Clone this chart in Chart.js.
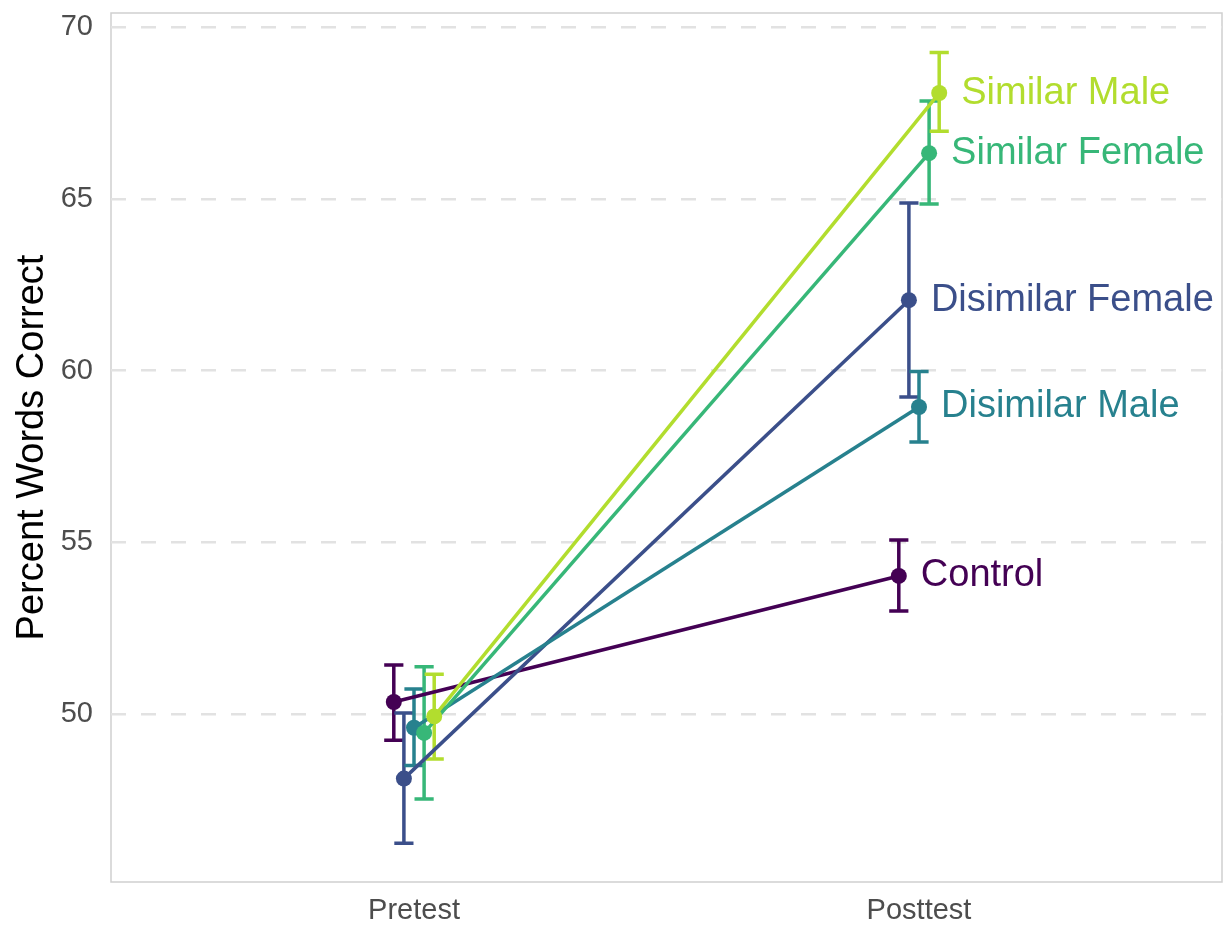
<!DOCTYPE html>
<html>
<head>
<meta charset="utf-8">
<title>Percent Words Correct</title>
<script src="https://cdn.jsdelivr.net/npm/chart.js@4.4.1/dist/chart.umd.min.js"></script>
<style>
  html, body { margin: 0; padding: 0; background: #fff; overflow: hidden; }
  canvas { display: block; }
</style>
</head>
<body>
<canvas id="wordsChart" width="1225" height="927"></canvas>
<script>
// groups and test times
const groups = ['Control', 'Disimilar Female', 'Disimilar Male', 'Similar Female', 'Similar Male'];
const times = ['Pretest', 'Posttest'];
const groupColors = ['#440154', '#3b4f8a', '#27818e', '#37b778', '#b2dd2e'];

// means and error bar ends
const pretestMean = [50.35, 48.12, 49.60, 49.45, 49.93];
const pretestLow = [49.24, 46.24, 48.50, 47.53, 48.69];
const pretestHigh = [51.43, 50.03, 50.73, 51.38, 51.16];
const posttestMean = [54.02, 62.05, 58.94, 66.33, 68.08];
const posttestLow = [53.00, 59.23, 57.92, 64.85, 66.97];
const posttestHigh = [55.07, 64.88, 59.97, 67.85, 69.26];

const yTicks = [50, 55, 60, 65, 70];
const dodge = [-0.04, -0.02, 0, 0.02, 0.04];

const fontFamily = '"Liberation Sans", Arial, Helvetica, sans-serif';

const datasets = groups.map(function(name, i) {
    return {
        label: name,
        data: [
            { x: 1 + dodge[i], y: pretestMean[i] },
            { x: 2 + dodge[i], y: posttestMean[i] }
        ],
        showLine: true,
        borderColor: groupColors[i],
        backgroundColor: groupColors[i],
        borderWidth: 3.5,
        pointRadius: 8,
        pointBorderWidth: 0,
        pointHoverRadius: 8,
        order: groups.length - 1 - i
    };
});

// panel border
const panelBorder = {
    id: 'panelBorder',
    beforeDraw(chart) {
        const a = chart.chartArea;
        const ctx = chart.ctx;
        ctx.save();
        ctx.strokeStyle = '#cfcfcf';
        ctx.lineWidth = 1.5;
        ctx.strokeRect(a.left, a.top, a.right - a.left, a.bottom - a.top);
        ctx.restore();
    }
};

// error bars under the lines
const errorBars = {
    id: 'errorBars',
    beforeDatasetsDraw(chart) {
        const xs = chart.scales.x;
        const ys = chart.scales.y;
        const ctx = chart.ctx;
        ctx.save();
        ctx.lineWidth = 3.5;
        groups.forEach(function(name, i) {
            const bars = [
                [1 + dodge[i], pretestLow[i], pretestHigh[i]],
                [2 + dodge[i], posttestLow[i], posttestHigh[i]]
            ];
            ctx.strokeStyle = groupColors[i];
            bars.forEach(function(b) {
                const x = xs.getPixelForValue(b[0]);
                const xl = xs.getPixelForValue(b[0] - 0.019);
                const xr = xs.getPixelForValue(b[0] + 0.019);
                const yl = ys.getPixelForValue(b[1]);
                const yh = ys.getPixelForValue(b[2]);
                ctx.beginPath();
                ctx.moveTo(x, yl); ctx.lineTo(x, yh);
                ctx.moveTo(xl, yl); ctx.lineTo(xr, yl);
                ctx.moveTo(xl, yh); ctx.lineTo(xr, yh);
                ctx.stroke();
            });
        });
        ctx.restore();
    }
};

// group names next to the posttest points
const endLabels = {
    id: 'endLabels',
    afterDatasetsDraw(chart) {
        const xs = chart.scales.x;
        const ys = chart.scales.y;
        const ctx = chart.ctx;
        ctx.save();
        ctx.font = '38px ' + fontFamily;
        ctx.textAlign = 'left';
        ctx.textBaseline = 'middle';
        groups.forEach(function(name, i) {
            ctx.fillStyle = groupColors[i];
            ctx.fillText(name, xs.getPixelForValue(2 + dodge[i]) + 22, ys.getPixelForValue(posttestMean[i]));
        });
        ctx.restore();
    }
};

const ctx = document.getElementById('wordsChart').getContext('2d');
const wordsChart = new Chart(ctx, {
    type: 'scatter',
    data: { datasets: datasets },
    plugins: [panelBorder, errorBars, endLabels],
    options: {
        responsive: false,
        animation: false,
        devicePixelRatio: 1,
        layout: {
            autoPadding: false,
            padding: { top: 13, right: 3, left: 0, bottom: 0 }
        },
        plugins: {
            legend: { display: false },
            tooltip: { enabled: false }
        },
        scales: {
            x: {
                type: 'linear',
                min: 0.4,
                max: 2.6,
                afterBuildTicks: function(scale) {
                    scale.ticks = times.map(function(t, i) { return { value: i + 1 }; });
                },
                afterFit: function(scale) {
                    scale.height = 45;
                    scale.paddingLeft = 0;
                    scale.paddingRight = 0;
                },
                grid: { display: false, drawTicks: false },
                border: { display: false },
                ticks: {
                    padding: 12,
                    color: '#4d4d4d',
                    font: { family: fontFamily, size: 29 },
                    maxRotation: 0,
                    callback: function(value) { return times[value - 1]; }
                }
            },
            y: {
                min: 45.11,
                max: 70.41,
                afterBuildTicks: function(scale) {
                    scale.ticks = yTicks.map(function(v) { return { value: v }; });
                },
                afterFit: function(scale) {
                    scale.width = 111;
                    scale.paddingTop = 0;
                    scale.paddingBottom = 0;
                },
                grid: { color: '#e2e2e2', lineWidth: 2.5, drawTicks: false },
                border: { display: false, dash: [15, 15] },
                ticks: {
                    padding: 18,
                    color: '#4d4d4d',
                    font: { family: fontFamily, size: 29 }
                },
                title: {
                    display: true,
                    text: 'Percent Words Correct',
                    color: '#000',
                    font: { family: fontFamily, size: 38 },
                    padding: { top: 10, bottom: 0 }
                }
            }
        }
    }
});
</script>
</body>
</html>
